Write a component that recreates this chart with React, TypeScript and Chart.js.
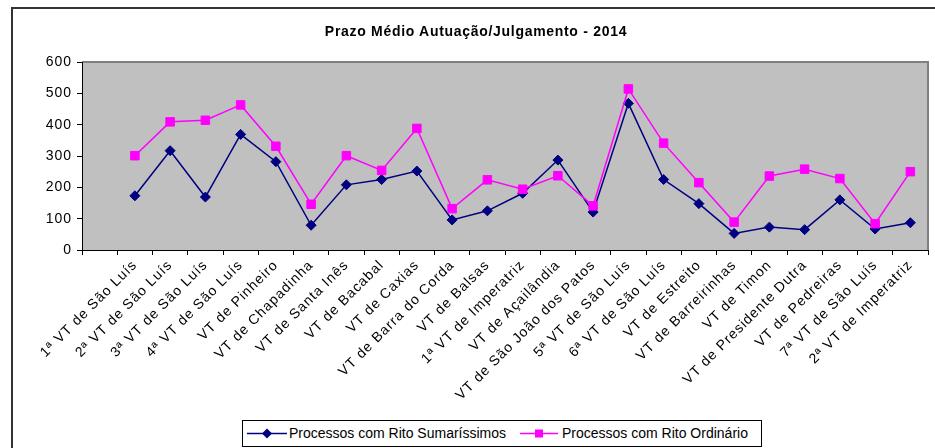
import React, { useEffect, useRef } from "react";
import { Chart, registerables } from "chart.js";

Chart.register(...registerables);

const categories: string[] = [
  "",
  "1ª VT de São Luís",
  "2ª VT de São Luís",
  "3ª VT de São Luís",
  "4ª VT de São Luís",
  "VT de Pinheiro",
  "VT de Chapadinha",
  "VT de Santa Inês",
  "VT de Bacabal",
  "VT de Caxias",
  "VT de Barra do Corda",
  "VT de Balsas",
  "1ª VT de Imperatriz",
  "VT de Açailândia",
  "VT de São João dos Patos",
  "5ª VT de São Luís",
  "6ª VT de São Luís",
  "VT de Estreito",
  "VT de Barreirinhas",
  "VT de Timon",
  "VT de Presidente Dutra",
  "VT de Pedreiras",
  "7ª VT de São Luís",
  "2ª VT de Imperatriz",
];

const sumarissimo: (number | null)[] = [
  null, 173, 317, 169, 369, 282, 79, 208, 225, 252, 96, 125, 181, 287, 121, 468, 225, 148, 53, 73, 65, 160, 67, 87,
];

const ordinario: (number | null)[] = [
  null, 301, 409, 414, 463, 331, 146, 301, 254, 388, 132, 224, 194, 237, 141, 514, 341, 215, 89, 236, 258, 228, 84, 250,
];

const yTicks: number[] = [0, 100, 200, 300, 400, 500, 600];

const titleText = "Prazo Médio Autuação/Julgamento - 2014";
const seriesNames = ["Processos com Rito Sumaríssimos", "Processos com Rito Ordinário"];

const FONT = '"Liberation Sans", Arial, sans-serif';
const NAVY = "#000080";
const PINK = "#FF00FF";

const plotBg = {
  id: "plotBg",
  beforeDraw(chart: any) {
    const { ctx, chartArea } = chart;
    (ctx as any).letterSpacing = "1px";
    if (!chartArea) return;
    ctx.save();
    ctx.fillStyle = "#C0C0C0";
    ctx.fillRect(chartArea.left, chartArea.top, chartArea.right - chartArea.left, chartArea.bottom - chartArea.top);
    ctx.strokeStyle = "#808080";
    ctx.lineWidth = 2;
    ctx.beginPath();
    ctx.moveTo(chartArea.left, chartArea.top);
    ctx.lineTo(chartArea.right, chartArea.top);
    ctx.lineTo(chartArea.right, chartArea.bottom);
    ctx.stroke();
    ctx.restore();
  },
};

export default function App() {
  const ref = useRef<HTMLCanvasElement | null>(null);

  useEffect(() => {
    if (!ref.current) return;
    const chart = new Chart(ref.current, {
      type: "line",
      data: {
        labels: categories,
        datasets: [
          {
            label: seriesNames[0],
            data: sumarissimo,
            borderColor: NAVY,
            backgroundColor: NAVY,
            borderWidth: 1.5,
            pointStyle: "rectRot",
            pointRadius: 5,
            pointBorderWidth: 1,
            pointBackgroundColor: NAVY,
            pointBorderColor: NAVY,
            tension: 0,
            order: 1,
          },
          {
            label: seriesNames[1],
            data: ordinario,
            borderColor: PINK,
            backgroundColor: PINK,
            borderWidth: 1.5,
            pointStyle: "rect",
            pointRadius: 6,
            pointBorderWidth: 1,
            pointBackgroundColor: PINK,
            pointBorderColor: PINK,
            tension: 0,
            order: 0,
          },
        ],
      },
      options: {
        animation: false,
        responsive: false,
        devicePixelRatio: 1,
        layout: { padding: { top: 62, left: 0, right: 4, bottom: 0 } },
        plugins: {
          legend: { display: false },
          title: { display: false },
          tooltip: { enabled: false },
        },
        scales: {
          x: {
            type: "category",
            offset: true,
            grid: {
              offset: true,
              drawOnChartArea: false,
              drawTicks: true,
              tickLength: 5,
              color: "#000",
            },
            border: { color: "#000", width: 1 },
            ticks: {
              autoSkip: false,
              minRotation: 45,
              maxRotation: 45,
              padding: 2,
              color: "#000",
              font: { family: FONT, size: 14 },
            },
            afterFit(scale: any) {
              scale.height = 198;
              scale.paddingLeft = 0;
              scale.paddingRight = 0;
            },
          },
          y: {
            min: 0,
            max: 600,
            afterBuildTicks(scale: any) {
              scale.ticks = yTicks.map((v) => ({ value: v }));
            },
            grid: {
              drawOnChartArea: false,
              drawTicks: true,
              tickLength: 5,
              color: "#000",
            },
            border: { color: "#000", width: 1 },
            ticks: {
              padding: 5,
              color: "#000",
              font: { family: FONT, size: 14 },
            },
            afterFit(scale: any) {
              scale.width = 82;
            },
          },
        },
      },
      plugins: [plotBg],
    } as any);
    return () => chart.destroy();
  }, []);

  return (
    <div
      style={{
        position: "fixed",
        left: 0,
        top: 0,
        width: 935,
        height: 448,
        overflow: "hidden",
        background: "#fff",
        fontFamily: FONT,
      }}
    >
      <div
        style={{
          position: "absolute",
          left: 11,
          top: 7,
          width: 1000,
          height: 1000,
          borderLeft: "2px solid #333",
          borderTop: "2px solid #333",
        }}
      />
      <canvas ref={ref} width={935} height={448} style={{ position: "absolute", left: 0, top: 0 }} />
      <div
        style={{
          position: "absolute",
          left: 0,
          width: 952,
          top: 23,
          textAlign: "center",
          fontWeight: "bold",
          fontSize: 14,
          letterSpacing: "0.7px",
          color: "#000",
          lineHeight: "16px",
        }}
      >
        {titleText}
      </div>
      <div
        style={{
          position: "absolute",
          left: 242,
          top: 420,
          width: 518,
          height: 25,
          border: "1px solid #000",
          background: "#fff",
        }}
      >
        <svg width={42} height={25} style={{ position: "absolute", left: 3, top: 0 }}>
          <line x1={1} y1={12.5} x2={41} y2={12.5} stroke={NAVY} strokeWidth={1.5} />
          <polygon points="21,7.5 26,12.5 21,17.5 16,12.5" fill={NAVY} />
        </svg>
        <span style={{ position: "absolute", left: 46, top: 4, fontSize: 14, lineHeight: "16px", color: "#000", whiteSpace: "nowrap" }}>
          {seriesNames[0]}
        </span>
        <svg width={42} height={25} style={{ position: "absolute", left: 276, top: 0 }}>
          <line x1={1} y1={12.5} x2={39} y2={12.5} stroke={PINK} strokeWidth={1.5} />
          <rect x={16} y={8.5} width={8} height={8} fill={PINK} />
        </svg>
        <span style={{ position: "absolute", left: 319, top: 4, fontSize: 14, lineHeight: "16px", color: "#000", whiteSpace: "nowrap" }}>
          {seriesNames[1]}
        </span>
      </div>
    </div>
  );
}
